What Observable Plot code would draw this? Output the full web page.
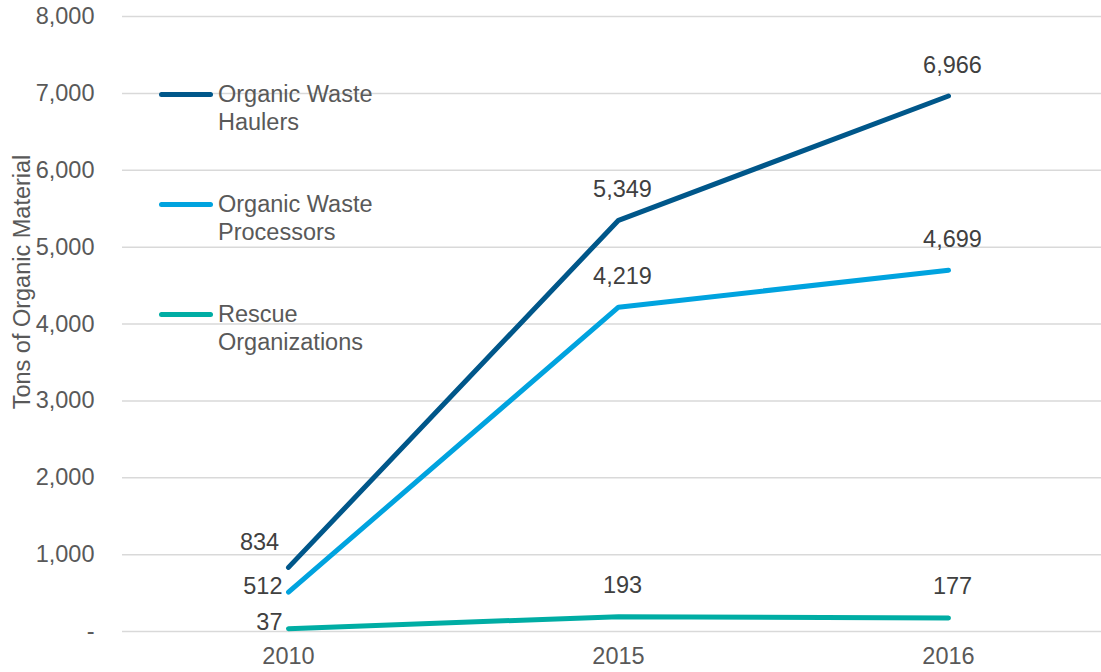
<!DOCTYPE html>
<html>
<head>
<meta charset="utf-8">
<script src="https://cdn.jsdelivr.net/npm/d3@7"></script>
<script src="https://cdn.jsdelivr.net/npm/@observablehq/plot@0.6"></script>
<style>
  html, body { margin: 0; padding: 0; background: #fff; }
  #wrap { position: relative; width: 1101px; height: 672px; font-family: "Liberation Sans", Arial, sans-serif; }
  #legend { position: absolute; left: 0; top: 0; }
  .item { position: absolute; display: flex; align-items: flex-start; white-space: nowrap; }
  .swatch { width: 54px; height: 5px; border-radius: 3px; margin-top: 12px; margin-right: 5px; flex: none; }
  .lab { font-size: 23.5px; line-height: 28px; color: #595959; white-space: nowrap; }
  #ytitle { position: absolute; left: 22px; top: 282px; transform: translate(-50%, -50%) rotate(-90deg);
            font-size: 23.5px; color: #595959; white-space: nowrap; }
</style>
</head>
<body>
<div id="wrap"></div>
<script>
const years = ["2010", "2015", "2016"];
const seriesNames = ["Organic Waste Haulers", "Organic Waste Processors", "Rescue Organizations"];
const legendLines = [["Organic Waste", "Haulers"], ["Organic Waste", "Processors"], ["Rescue", "Organizations"]];
const haulers = [834, 5349, 6966];
const processors = [512, 4219, 4699];
const rescue = [37, 193, 177];
const colors = ["#00578A", "#00A3DF", "#00ADA4"];
const yTicks = [0, 1000, 2000, 3000, 4000, 5000, 6000, 7000, 8000];
const yTitle = "Tons of Organic Material";

const valuesBySeries = [haulers, processors, rescue];
const data = [];
seriesNames.forEach((s, si) => {
  years.forEach((yr, i) => data.push({series: s, year: yr, value: valuesBySeries[si][i], si, i}));
});

const fmt = d => d === 0 ? "-" : d3.format(",")(d);
const font = "Liberation Sans, Arial, sans-serif";

const first = data.filter(d => d.i === 0);
const rest = data.filter(d => d.i !== 0);

const chart = Plot.plot({
  width: 1101,
  height: 672,
  marginTop: 16,
  marginBottom: 41,
  marginLeft: 122,
  marginRight: 0,
  style: {fontFamily: font, fontSize: "23.5px", color: "#595959", background: "#fff"},
  x: {type: "point", domain: years, range: [287, 948], padding: 0, label: null},
  y: {domain: [0, 8000], label: null},
  color: {domain: seriesNames, range: colors},
  marks: [
    Plot.gridY(yTicks, {stroke: "#d9d9d9", strokeOpacity: 1, strokeWidth: 1.5}),
    Plot.axisY(yTicks, {tickSize: 0, tickPadding: 28, tickFormat: fmt, label: null, fill: "#595959", fontSize: 23.5}),
    Plot.axisX(years, {tickSize: 0, tickPadding: 16, label: null, fill: "#595959", fontSize: 23.5}),
    Plot.line(data, {x: "year", y: "value", z: "series", stroke: "series", strokeWidth: 5, strokeLinecap: "round", strokeLinejoin: "round"}),
    Plot.text(first.filter(d => d.si === 0), {x: "year", y: "value", text: d => fmt(d.value), dx: -29, dy: -25, fill: "#404040", fontSize: 23.5}),
    Plot.text(first.filter(d => d.si !== 0), {x: "year", y: "value", text: d => fmt(d.value), textAnchor: "end", dx: -6, dy: -6, fill: "#404040", fontSize: 23.5}),
    Plot.text(rest, {x: "year", y: "value", text: d => fmt(d.value), dx: 4, dy: -31, fill: "#404040", fontSize: 23.5})
  ]
});

const wrap = document.getElementById("wrap");
wrap.appendChild(chart);

const title = document.createElement("div");
title.id = "ytitle";
title.textContent = yTitle;
wrap.appendChild(title);

const legend = document.createElement("div");
legend.id = "legend";
const legendTops = [80, 190, 300];
seriesNames.forEach((s, i) => {
  const item = document.createElement("div");
  item.className = "item";
  item.style.left = "159px";
  item.style.top = legendTops[i] + "px";
  const sw = document.createElement("div");
  sw.className = "swatch";
  sw.style.background = colors[i];
  const lab = document.createElement("div");
  lab.className = "lab";
  lab.innerHTML = legendLines[i].join("<br>");
  item.appendChild(sw);
  item.appendChild(lab);
  legend.appendChild(item);
});
wrap.appendChild(legend);
</script>
</body>
</html>
